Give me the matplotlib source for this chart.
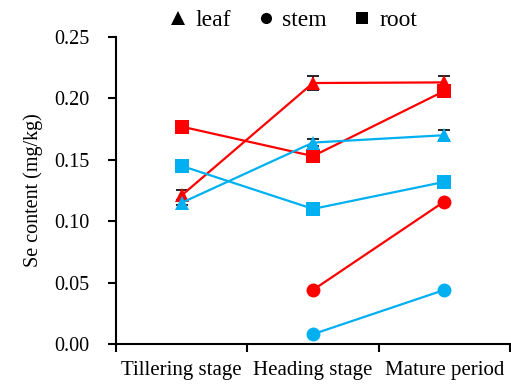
import matplotlib
matplotlib.use("Agg")
import matplotlib.pyplot as plt
from matplotlib.lines import Line2D
import numpy as np

plt.rcParams["font.family"] = ["Liberation Serif", "DejaVu Serif"]

stages = ["Tillering stage", "Heading stage", "Mature period"]

# red group
red_leaf = [0.121, 0.2125, 0.213]
red_leaf_err = [0.004, 0.006, 0.005]
red_stem = [np.nan, 0.044, 0.116]
red_root = [0.177, 0.153, 0.206]
red_root_err = [0.0, 0.0, 0.003]

# blue group
blue_leaf = [0.115, 0.164, 0.170]
blue_leaf_err = [0.002, 0.003, 0.004]
blue_stem = [np.nan, 0.008, 0.044]
blue_root = [0.145, 0.110, 0.132]
blue_root_err = [0.004, 0.0, 0.002]

RED = "#FF0000"
BLUE = "#00B0F0"

fig = plt.figure(figsize=(5.11, 3.85), dpi=100)
ax = fig.add_axes([0.227, 0.1065, 0.771, 0.7975])

x = np.arange(len(stages))


def series(vals, err, color, marker):
    if err is not None:
        ax.errorbar(x, vals, yerr=err, fmt="none", ecolor="black",
                    elinewidth=1.2, capsize=4, capthick=1.2, zorder=2)
    ax.plot(x, vals, color=color, lw=1.6, marker=marker, ms=10,
            markeredgewidth=0, zorder=3)


series(red_leaf, red_leaf_err, RED, "^")
series(red_stem, None, RED, "o")
series(red_root, red_root_err, RED, "s")
series(blue_leaf, blue_leaf_err, BLUE, "^")
series(blue_stem, None, BLUE, "o")
series(blue_root, blue_root_err, BLUE, "s")

ax.set_xlim(-0.5, len(stages) - 0.5)
ax.set_ylim(0, 0.25)
yt = np.arange(0, 0.26, 0.05)
ax.set_yticks(yt)
ax.set_yticklabels([f"{v:.2f}" for v in yt])
ax.set_xticks(np.arange(-0.5, len(stages), 1.0))
ax.set_xticklabels([])
ax.set_xticks(x, minor=True)
ax.set_xticklabels(stages, minor=True)
ax.tick_params(axis="x", which="minor", length=0, pad=12, labelsize=15)
ax.tick_params(axis="x", which="major", length=6, width=1.5, direction="out")
ax.tick_params(axis="y", length=6, width=1.5, direction="out", labelsize=14.5, pad=13)
for t in ax.get_xticklines():
    t.set_clip_on(False)

for s in ["top", "right"]:
    ax.spines[s].set_visible(False)
for s in ["left", "bottom"]:
    ax.spines[s].set_linewidth(1.5)

ax.set_ylabel("Se content (mg/kg)", fontsize=14.5, labelpad=8)

handles = [
    Line2D([], [], ls="none", marker="^", color="black", ms=10, markeredgewidth=0),
    Line2D([], [], ls="none", marker="o", color="black", ms=8, markeredgewidth=0),
    Line2D([], [], ls="none", marker="s", color="black", ms=8, markeredgewidth=0),
]
fig.legend(handles, ["leaf", "stem", "root"], loc="center",
           bbox_to_anchor=(0.571, 0.948), ncol=3, frameon=False,
           fontsize=17, handletextpad=0.2, columnspacing=1.0, handlelength=1.0)

fig.savefig("out.png", dpi=100)
